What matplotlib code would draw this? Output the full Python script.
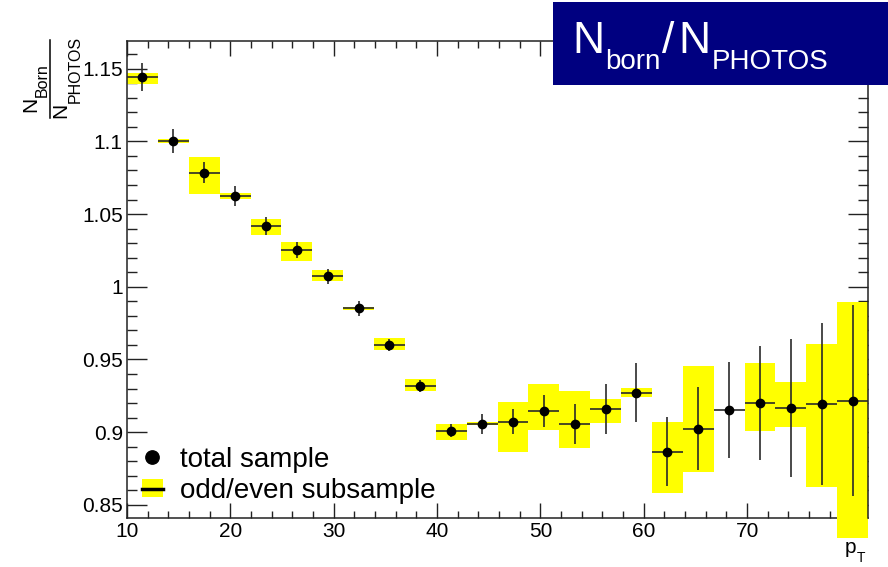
import numpy as np
import matplotlib
matplotlib.use('Agg')
import matplotlib.pyplot as plt
from matplotlib.ticker import MultipleLocator, FuncFormatter
from matplotlib.lines import Line2D
from matplotlib.patches import Patch, Rectangle

plt.rcParams['font.family'] = ['Liberation Sans', 'DejaVu Sans']

# ---------------- data ----------------
x_min, x_max, n_bins = 10.0, 81.7, 24

ratio = [1.1442, 1.1005, 1.0783, 1.0625, 1.0419, 1.0252, 1.0071, 0.9852,
         0.9600, 0.9318, 0.9011, 0.9057, 0.9071, 0.9146, 0.9055, 0.9158,
         0.9272, 0.8865, 0.9025, 0.9151, 0.9201, 0.9165, 0.9192, 0.9217]
ratio_err = [0.0094, 0.0082, 0.0072, 0.0069, 0.0060, 0.0055, 0.0053, 0.0052,
             0.0040, 0.0043, 0.0046, 0.0070, 0.0086, 0.0112, 0.0137, 0.0172,
             0.0203, 0.0238, 0.0283, 0.0330, 0.0395, 0.0475, 0.0557, 0.0658]
sub_center = [1.1434, 1.1005, 1.0762, 1.0626, 1.0409, 1.0240, 1.0077, 0.9852,
              0.9605, 0.9325, 0.9001, 0.9057, 0.9039, 0.9174, 0.9087, 0.9146,
              0.9276, 0.8826, 0.9091, 0.9151, 0.9241, 0.9191, 0.9112, 0.9084]
sub_half = [0.0037, 0.0014, 0.0127, 0.0022, 0.0054, 0.0066, 0.0038, 0.0010,
            0.0040, 0.0039, 0.0054, 0.0010, 0.0172, 0.0158, 0.0197, 0.0080,
            0.0031, 0.0245, 0.0364, 0.0000, 0.0232, 0.0152, 0.0492, 0.0813]

y_min, y_max = 0.841, 1.169
x_labelled = [10, 20, 30, 40, 50, 60, 70]   # the "80" label is hidden under the last box
legend_labels = ['total sample', 'odd/even subsample']

# ---------------- figure ----------------
W, H = 888, 567
fig = plt.figure(figsize=(W / 100, H / 100), dpi=100)
ax = fig.add_axes([127 / W, 1 - 518 / H, (868 - 127) / W, (518 - 41) / H])

edges = np.linspace(x_min, x_max, n_bins + 1)
centers = 0.5 * (edges[:-1] + edges[1:])
width = edges[1] - edges[0]
sc = np.array(sub_center)
sh = np.array(sub_half)

ax.bar(centers, 2 * sh, bottom=sc - sh, width=width, color='#ffff00',
       linewidth=0, clip_on=False, zorder=2.6)
ax.errorbar(centers, ratio, yerr=ratio_err, xerr=width / 2, fmt='o',
            color='black', ms=6, ecolor='#2a2a2a', elinewidth=1.2,
            capsize=0, zorder=4)

ax.set_xlim(x_min, x_max)
ax.set_ylim(y_min, y_max)

ax.xaxis.set_major_locator(MultipleLocator(10))
ax.xaxis.set_minor_locator(MultipleLocator(2))
ax.yaxis.set_major_locator(MultipleLocator(0.05))
ax.yaxis.set_minor_locator(MultipleLocator(0.01))
ax.yaxis.set_major_formatter(FuncFormatter(lambda v, p: f'{v:g}'))
ax.xaxis.set_major_formatter(FuncFormatter(
    lambda v, p: f'{v:g}' if round(v) in x_labelled else ''))

ax.tick_params(axis='both', which='both', direction='in', top=True,
               right=True, color='#222222', width=1.0, labelsize=15)
ax.tick_params(axis='x', which='major', length=10.5, pad=3)
ax.tick_params(axis='x', which='minor', length=5.2)
ax.tick_params(axis='y', which='major', length=14.4, pad=3)
ax.tick_params(axis='y', which='minor', length=7.2)
for s in ax.spines.values():
    s.set_linewidth(1.1)
    s.set_color('#222222')
ax.spines['right'].set_zorder(3)
ax.spines['left'].set_zorder(3)

handles = [Line2D([], [], marker='o', ls='none', color='black', ms=9.6),
           (Patch(facecolor='#ffff00', edgecolor='none'),
            Line2D([], [], color='black', lw=2.5))]
ax.legend(handles, legend_labels, loc='lower left',
          bbox_to_anchor=(0.0198, 0.029), frameon=False, fontsize=20,
          handlelength=0.77, handleheight=0.62, handletextpad=0.6,
          borderpad=0, borderaxespad=0, labelspacing=0.2)

# ---------------- texts ----------------
renderer = fig.canvas.get_renderer()


def chain_h(pieces, x0, base_y, color='black', zorder=6):
    x = x0
    for s, size, drop, gap in pieces:
        t = fig.text(x / W, 1 - (base_y + drop) / H, s, fontsize=size,
                     color=color, ha='left', va='baseline', zorder=zorder)
        x += t.get_window_extent(renderer).width + gap
    return x


def chain_v(pieces, base_x, y0):
    y = y0
    for s, size, shift in pieces:
        t = fig.text((base_x + shift) / W, 1 - y / H, s, fontsize=size,
                     rotation=90, rotation_mode='anchor', ha='left',
                     va='baseline')
        y -= t.get_window_extent(renderer).height
    return y


# title box
fig.add_artist(Rectangle((553 / W, 1 - 85 / H), (W - 553) / W, 83 / H,
                         transform=fig.transFigure, facecolor='#000080',
                         edgecolor='none', zorder=5))
chain_h([('N', 32, 0, 1), ('born', 20, 16, 2), ('/', 32, 0, 3),
         ('N', 32, 0, 2), ('PHOTOS', 20, 16, 0)], 572, 53, color='white')

# y label (fraction)
chain_v([('N', 15, 0), ('Born', 11.5, 10)], 36.7, 112.5)
chain_v([('N', 15, 0), ('PHOTOS', 11.5, 13.3)], 66.7, 118.5)
fig.add_artist(Line2D([50 / W, 50 / W], [1 - 40 / H, 1 - 118 / H],
                      transform=fig.transFigure, color='black', lw=1.1))

# x label
chain_h([('p', 15, 0, 0), ('T', 10, 9, 0)], 845, 553)

fig.savefig('out.png', dpi=100)
